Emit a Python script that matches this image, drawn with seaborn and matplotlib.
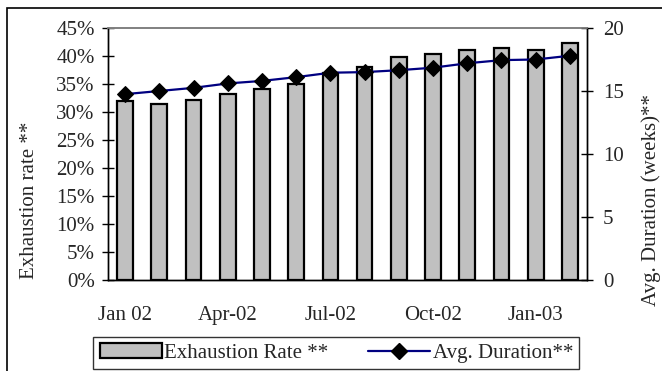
import pandas as pd
import matplotlib
matplotlib.use("Agg")
import matplotlib.pyplot as plt
import seaborn as sns
from matplotlib.patches import Rectangle, Patch
from matplotlib.lines import Line2D
from matplotlib.ticker import FuncFormatter, FixedLocator

months = ["Jan 02", "Feb-02", "Mar-02", "Apr-02", "May-02", "Jun-02", "Jul-02",
          "Aug-02", "Sep-02", "Oct-02", "Nov-02", "Dec-02", "Jan-03", "Feb-03"]
exhaustion_rate = [0.320, 0.314, 0.321, 0.333, 0.341, 0.350, 0.369,
                   0.381, 0.398, 0.404, 0.410, 0.414, 0.411, 0.424]
avg_duration = [14.75, 15.0, 15.25, 15.6, 15.8, 16.1, 16.45,
                16.5, 16.65, 16.85, 17.2, 17.45, 17.5, 17.8]
shown_labels = {"Jan 02", "Apr-02", "Jul-02", "Oct-02", "Jan-03"}

df = pd.DataFrame({"Month": months, "Rate": exhaustion_rate, "Duration": avg_duration})
df["pos"] = range(len(df))

FS = 15

sns.set_style("white")
plt.rcParams["font.family"] = ["Liberation Serif", "DejaVu Serif"]
plt.rcParams["font.size"] = FS

fig = plt.figure(figsize=(6.62, 3.71), dpi=100)
ax = fig.add_axes([108 / 662, 1 - 280 / 371, (587 - 108) / 662, (280 - 28) / 371])

sns.barplot(data=df, x="Month", y="Rate", color="#C0C0C0", edgecolor="black",
            linewidth=1.6, width=0.46, saturation=1, ax=ax)
ax.set_xlim(-0.5, len(months) - 0.5)
ax.set_ylim(0, 0.45)
ax.set_yticks([i * 0.05 for i in range(10)])
ax.yaxis.set_major_formatter(FuncFormatter(lambda v, _: f"{v * 100:.0f}%"))
ax.set_ylabel("Exhaustion rate **", fontsize=FS)
ax.yaxis.set_label_coords(-0.145, 0.317)
ax.set_xlabel("")

# category labels at centres, tick marks at boundaries
ax.set_xticks(df["pos"])
ax.set_xticklabels([m if m in shown_labels else "" for m in months])
ax.tick_params(axis="x", length=0, pad=19, labelsize=FS)
ax.xaxis.set_minor_locator(FixedLocator([i - 0.5 for i in range(len(months) + 1)]))
ax.tick_params(axis="x", which="minor", direction="inout", length=9, width=1, color="black")
ax.tick_params(axis="y", direction="inout", length=9, width=1, color="black", pad=5, labelsize=FS)

ax2 = ax.twinx()
sns.lineplot(data=df, x="pos", y="Duration", color="#000080", linewidth=1.6,
             marker="D", markersize=8, markerfacecolor="black",
             markeredgecolor="black", ax=ax2)
ax2.set_ylim(0, 20)
ax2.set_yticks([0, 5, 10, 15, 20])
ax2.set_ylabel("Avg. Duration (weeks)**", fontsize=FS)
ax2.yaxis.set_label_coords(1.113, 0.317)
ax2.tick_params(axis="y", direction="inout", length=9, width=1, color="black", pad=7, labelsize=FS)
ax2.set_xlim(-0.5, len(months) - 0.5)

for a in (ax, ax2):
    for side in ("left", "right", "bottom"):
        a.spines[side].set_color("black")
        a.spines[side].set_linewidth(1)
    a.spines["top"].set_color("#808080")
    a.spines["top"].set_linewidth(1.2)

handles = [Patch(facecolor="#C0C0C0", edgecolor="black", linewidth=1.6),
           Line2D([], [], color="#000080", linewidth=1.6, marker="D",
                  markersize=8, markerfacecolor="black", markeredgecolor="black")]
leg = fig.legend(handles, ["Exhaustion Rate **", "Avg. Duration**"], ncol=2,
                 loc="upper center", bbox_to_anchor=(0.508, 1 - 337 / 371),
                 borderaxespad=0, frameon=True, fancybox=False, edgecolor="black",
                 fontsize=FS, handlelength=3.0, handletextpad=0.1,
                 columnspacing=1.9, borderpad=0.3)
leg.get_frame().set_linewidth(1)

# outer chart border
fig.patches.append(Rectangle((7 / 662, -0.1), 1.1, 1 - 8 / 371 + 0.1,
                             transform=fig.transFigure, fill=False,
                             edgecolor="black", linewidth=1.2))

fig.savefig("out.png", dpi=100)
